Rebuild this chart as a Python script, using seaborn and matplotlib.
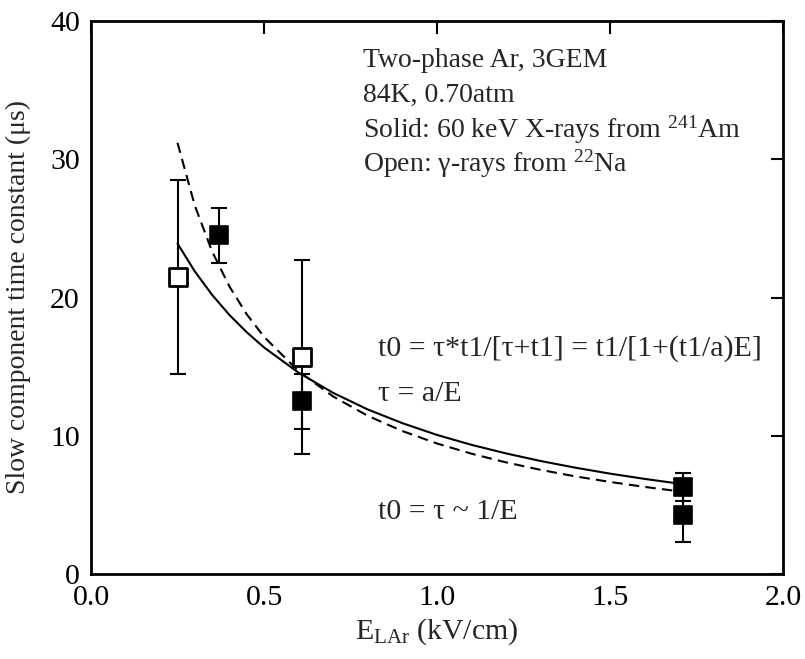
import matplotlib
matplotlib.use("Agg")
import matplotlib.pyplot as plt
import seaborn as sns
import pandas as pd

# ---- data ----
solid_E = [0.37, 0.61, 1.71, 1.71]
solid_t = [24.5, 12.5, 6.3, 4.3]
solid_err = [2.0, 2.0, 1.0, 2.0]

open_E = [0.25, 0.61]
open_t = [21.5, 15.7]
open_err = [7.0, 7.0]

# model curve t0 = t1/[1+(t1/a)E] (solid line)
fit_E = [0.25, 0.30, 0.35, 0.40, 0.45, 0.50, 0.60, 0.70, 0.80, 0.90, 1.00,
         1.10, 1.20, 1.30, 1.40, 1.50, 1.60, 1.71]
fit_t = [23.90, 21.89, 20.19, 18.74, 17.49, 16.39, 14.56, 13.10, 11.90, 10.91,
         10.06, 9.34, 8.72, 8.17, 7.69, 7.26, 6.88, 6.50]
# t0 = tau ~ 1/E (dashed line)
inv_E = [0.25, 0.30, 0.35, 0.40, 0.45, 0.50, 0.60, 0.70, 0.80, 0.90, 1.00,
         1.10, 1.20, 1.30, 1.40, 1.50, 1.60, 1.71]
inv_t = [31.19, 26.65, 23.33, 20.80, 18.79, 17.16, 14.66, 12.84, 11.44, 10.34,
         9.44, 8.70, 8.07, 7.53, 7.06, 6.66, 6.30, 5.95]

x_ticks = [0.0, 0.5, 1.0, 1.5, 2.0]
y_ticks = [0, 10, 20, 30, 40]

sns.set_style("white")
plt.rcParams["font.family"] = ["Liberation Serif", "DejaVu Serif"]
plt.rcParams["mathtext.fontset"] = "custom"
plt.rcParams["mathtext.rm"] = "Liberation Serif"
plt.rcParams["mathtext.it"] = "Liberation Serif:italic"
plt.rcParams["mathtext.bf"] = "Liberation Serif:bold"

fig = plt.figure(figsize=(8.05, 6.59), dpi=100)
ax = fig.add_axes([91 / 805, 1 - 574 / 659, (783 - 91) / 805, (574 - 21) / 659])

df_fit = pd.DataFrame({"E": fit_E, "t": fit_t})
df_inv = pd.DataFrame({"E": inv_E, "t": inv_t})
sns.lineplot(data=df_fit, x="E", y="t", ax=ax, color="black", lw=1.5,
             sort=False, zorder=3)
sns.lineplot(data=df_inv, x="E", y="t", ax=ax, color="black", lw=1.5,
             sort=False, zorder=3)
ax.lines[-1].set_dashes([5, 3])

ax.errorbar(solid_E, solid_t, yerr=solid_err, fmt="none", ecolor="black",
            elinewidth=1.5, capsize=6, capthick=1.5, zorder=2)
ax.errorbar(open_E, open_t, yerr=open_err, fmt="none", ecolor="black",
            elinewidth=1.5, capsize=6, capthick=1.5, zorder=2)

df_solid = pd.DataFrame({"E": solid_E, "t": solid_t})
df_open = pd.DataFrame({"E": open_E, "t": open_t})
sns.scatterplot(data=df_solid, x="E", y="t", ax=ax, marker="s", s=170,
                color="black", edgecolor="black", linewidth=1.2, zorder=4)
sns.scatterplot(data=df_open, x="E", y="t", ax=ax, marker="s", s=170,
                color="white", edgecolor="black", linewidth=2.0, zorder=4)

ax.set_xlim(0, 2.0)
ax.set_ylim(0, 40)
ax.set_xticks(x_ticks)
ax.set_xticklabels([f"{v:.1f}" for v in x_ticks])
ax.set_yticks(y_ticks)
ax.set_yticklabels([str(v) for v in y_ticks])
ax.tick_params(direction="in", length=9, width=1.5, top=True, right=True,
               labelsize=21.5, pad=8, colors="black")
for sp in ax.spines.values():
    sp.set_linewidth(2.0)
    sp.set_color("black")

ax.set_xlabel(r"E$_{\mathrm{LAr}}$ (kV/cm)", fontsize=21.5, labelpad=4)
ax.set_ylabel("Slow component time constant (μs)", fontsize=20, labelpad=14)

fs1 = 20
fs2 = 21.5
ax.text(0.785, 36.7, "Two-phase Ar, 3GEM", fontsize=fs1, va="baseline")
ax.text(0.785, 34.15, "84K, 0.70atm", fontsize=fs1, va="baseline")
ax.text(0.785, 31.6, r"Solid: 60 keV X-rays from $^{241}$Am", fontsize=fs1, va="baseline")
ax.text(0.785, 29.1, r"Open: γ-rays from $^{22}$Na", fontsize=fs1, va="baseline")
ax.text(0.83, 15.8, "t0 = τ*t1/[τ+t1] = t1/[1+(t1/a)E]", fontsize=fs2, va="baseline")
ax.text(0.83, 12.5, "τ = a/E", fontsize=fs2, va="baseline")
ax.text(0.83, 4.0, "t0 = τ ~ 1/E", fontsize=fs2, va="baseline")

fig.savefig("out.png", dpi=100)
